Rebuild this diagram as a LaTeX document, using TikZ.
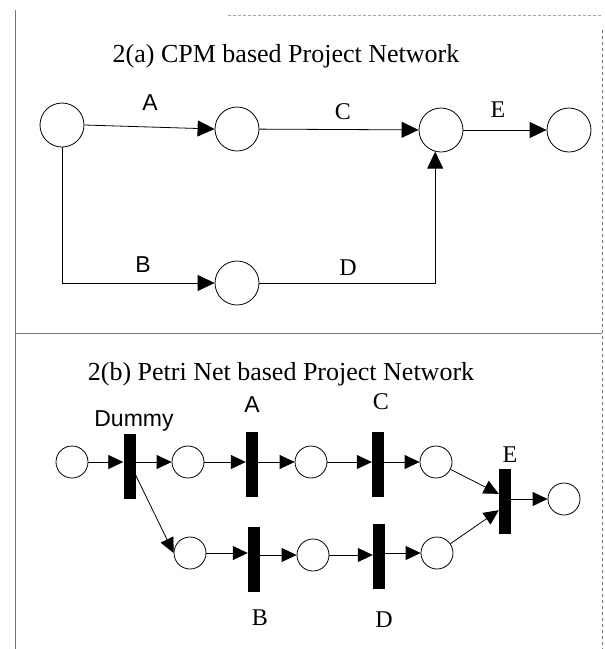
\documentclass[tikz,border=0pt]{standalone}
\usepackage{fontspec}
\setmainfont{Liberation Serif}
\setsansfont{Liberation Sans}
\usepackage{tikz}
\usetikzlibrary{arrows.meta}

\tikzset{
  event/.style={circle, draw, minimum size=44pt, inner sep=0pt, line width=.8pt},
  place/.style={circle, draw, minimum size=32pt, inner sep=0pt, line width=.8pt},
  trans/.style={fill=black, minimum width=12pt, minimum height=65pt, inner sep=0pt},
  cpmarrow/.style={-{Triangle[length=17pt,width=16pt]}, line width=.8pt},
  pnarrow/.style={-{Triangle[length=15pt,width=14pt]}, line width=.8pt},
  frame/.style={line width=.6pt, draw=black!55},
  title/.style={font=\fontsize{26}{30}\selectfont, anchor=base},
  serlabel/.style={font=\fontsize{24}{28}\selectfont},
  sanslabel/.style={font=\sffamily\fontsize{23}{27}\selectfont}
}

\begin{document}
\begin{tikzpicture}[x=1pt, y=-1pt]
  \useasboundingbox (0,0) rectangle (605,649);

  % scanned frame
  \draw[frame] (15,10) -- (15,649);
  \draw[frame, dashed] (602,30) -- (602,649);
  \draw[frame, densely dashed, draw=black!35] (228,15) -- (602,15);
  \draw[frame] (15,333) -- (602,333);

  % 2(a) CPM network
  \node[title] (ttla) at (286,62) {2(a) CPM based Project Network};

  \node[event] (n1) at (62,125) {};
  \node[event] (n2) at (237,129) {};
  \node[event] (n3) at (441,130) {};
  \node[event] (n4) at (569,130) {};
  \node[event] (n5) at (237,283) {};

  \draw[cpmarrow] (n1.east) -- (n2.west);
  \draw[cpmarrow] (n2) -- (n3);
  \draw[cpmarrow] (n3) -- (n4);
  \draw[cpmarrow] (n1.south) |- (n5.west);
  \draw[cpmarrow] (n5.east) -| (n3.255);

  \node[sanslabel] (la) at (150,103) {A};
  \node[serlabel] (lc) at (343,112) {C};
  \node[serlabel] (le) at (498,110) {E};
  \node[sanslabel] (lb) at (143,265) {B};
  \node[serlabel] (ld) at (348,268) {D};

  % 2(b) Petri net
  \node[title] (ttlb) at (281,380) {2(b) Petri Net based Project Network};

  \node[place] (p0) at (72,462) {};
  \node[trans] (tdummy) at (129.5,466) {};
  \node[place] (p1) at (188,462) {};
  \node[trans] (ta) at (252,464) {};
  \node[place] (p2) at (311,462) {};
  \node[trans] (tc) at (378,464) {};
  \node[place] (p3) at (436,462) {};
  \node[trans] (te) at (505,501) {};
  \node[place] (p8) at (564,499) {};
  \node[place] (p4) at (190,553) {};
  \node[trans] (tb) at (254,559) {};
  \node[place] (p5) at (313,555) {};
  \node[trans] (td) at (379,556) {};
  \node[place] (p7) at (437,553) {};

  \draw[pnarrow] (p0.east) -- (p0 -| tdummy.west);
  \draw[pnarrow] (tdummy.east |- p1) -- (p1.west);
  \draw[pnarrow] (p1.east) -- (p1 -| ta.west);
  \draw[pnarrow] (ta.east |- p2) -- (p2.west);
  \draw[pnarrow] (p2.east) -- (p2 -| tc.west);
  \draw[pnarrow] (tc.east |- p3) -- (p3.west);
  \draw[pnarrow] (tdummy.304) -- (p4.west);
  \draw[pnarrow] (p4.east) -- (p4 -| tb.west);
  \draw[pnarrow] (tb.east |- p5) -- (p5.west);
  \draw[pnarrow] (p5.east) -- (p5 -| td.west);
  \draw[pnarrow] (td.east |- p7) -- (p7.west);
  \draw[pnarrow] (p3) -- (te.131);
  \draw[pnarrow] (p7) -- (te.236);
  \draw[pnarrow] (te.east |- p8) -- (p8.west);

  \node[sanslabel] (ldummy) at (134,421) {Dummy};
  \node[sanslabel] (lpa) at (252,405) {A};
  \node[serlabel] (lpc) at (381,402) {C};
  \node[serlabel] (lpe) at (510,455) {E};
  \node[serlabel] (lpb) at (260,618) {B};
  \node[serlabel] (lpd) at (384,620) {D};
\end{tikzpicture}
\end{document}
